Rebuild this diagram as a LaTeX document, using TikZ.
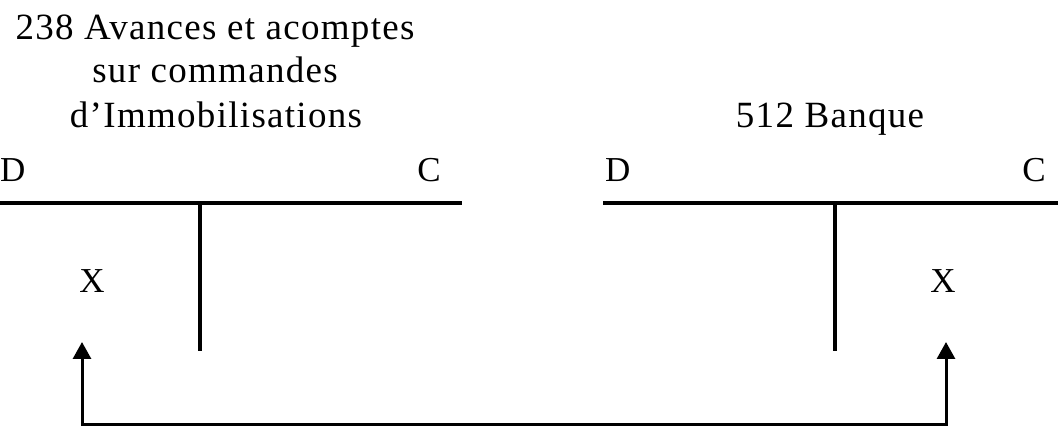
\documentclass[tikz,border=0pt]{standalone}
\usepackage{fontspec}
\setmainfont{Liberation Serif}
\newfontfamily\titlefont{Liberation Serif}[LetterSpace=3.5]
\usetikzlibrary{arrows.meta}
\begin{document}
\begin{tikzpicture}[x=1pt,y=-1pt,
  lbl/.style={anchor=base,inner sep=0pt,font=\fontsize{35}{44}\selectfont},
  ttl/.style={anchor=base,inner sep=0pt,font=\titlefont\fontsize{37}{44}\selectfont},
  rule/.style={line width=3.2pt},
  flow/.style={line width=3pt,{Triangle[length=17pt,width=18pt]}-{Triangle[length=17pt,width=18pt]}}]
\useasboundingbox (0,0) rectangle (1058,427);
% titles
\node[ttl] (t1a) at (215,40) {238 Avances et acomptes};
\node[ttl] (t1b) at (215,83) {sur commandes};
\node[ttl] (t1c) at (216,128) {d’Immobilisations};
\node[ttl] (t2) at (830,128) {512 Banque};
% D / C
\node[lbl,anchor=base west] (d1) at (0,182) {D};
\node[lbl,anchor=base east] (c1) at (441,182) {C};
\node[lbl,anchor=base west] (d2) at (605,182) {D};
\node[lbl,anchor=base east] (c2) at (1046,182) {C};
% T accounts
\coordinate (h1a) at (0,203);
\coordinate (h1b) at (462,203);
\coordinate (v1a) at (200,203);
\coordinate (v1b) at (200,351);
\coordinate (h2a) at (603,203);
\coordinate (h2b) at (1058,203);
\coordinate (v2a) at (835,203);
\coordinate (v2b) at (835,351);
\draw[rule] (h1a) -- (h1b);
\draw[rule] (v1a) -- (v1b);
\draw[rule] (h2a) -- (h2b);
\draw[rule] (v2a) -- (v2b);
% X entries
\node[lbl] (x1) at (92,293) {X};
\node[lbl] (x2) at (943,293) {X};
% connector
\coordinate (a1) at (82,342);
\coordinate (a2) at (946,342);
\draw[flow] (a1) -- (82,424.5) -| (a2);
\end{tikzpicture}
\end{document}
